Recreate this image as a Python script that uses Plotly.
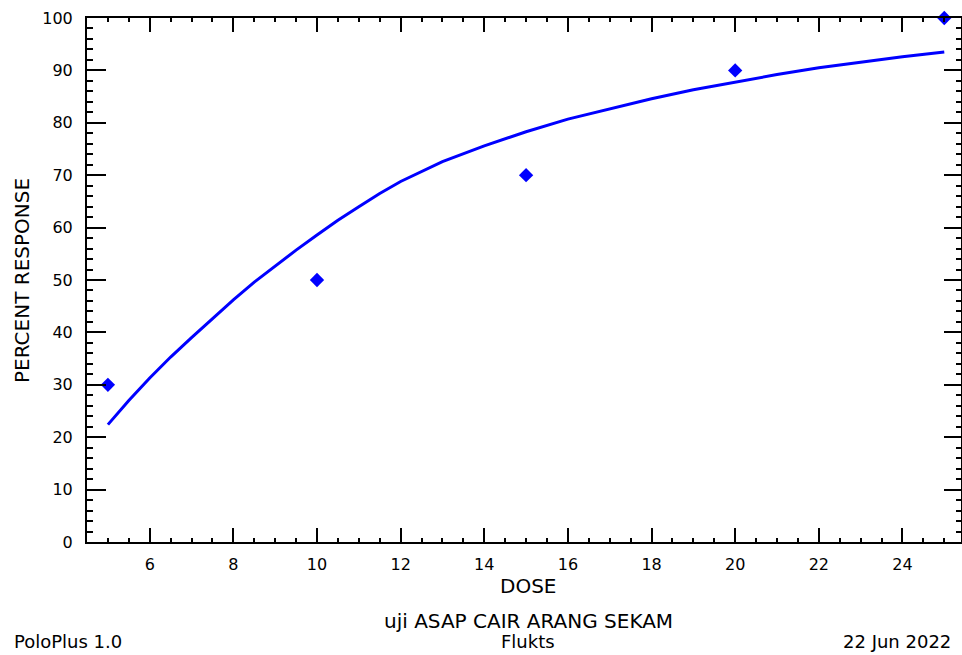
import plotly.graph_objects as go

# Observed data points
dose_obs = [5, 10, 15, 20, 25]
response_obs = [30, 50, 70, 90, 100]

# Fitted curve values
dose_curve = [5.0, 5.5, 6.0, 6.5, 7.0, 7.5, 8.0, 8.5, 9.0, 9.5, 10.0, 10.5, 11.0, 11.5,
              12.0, 13.0, 14.0, 15.0, 16.0, 17.0, 18.0, 19.0, 20.0, 21.0, 22.0, 23.0,
              24.0, 25.0]
response_curve = [22.4, 27.0, 31.3, 35.3, 39.0, 42.6, 46.2, 49.6, 52.7, 55.7, 58.6, 61.4,
                  64.0, 66.5, 68.8, 72.6, 75.6, 78.3, 80.7, 82.7, 84.6, 86.3, 87.8, 89.2,
                  90.5, 91.6, 92.6, 93.5]

x_ticks = [6, 8, 10, 12, 14, 16, 18, 20, 22, 24]
y_ticks = [0, 10, 20, 30, 40, 50, 60, 70, 80, 90, 100]
x_range = [4.5, 25.4]
y_range = [0, 100]

FONT = "DejaVu Sans"
BLUE = "#0000FF"

fig = go.Figure()
fig.add_trace(go.Scatter(
    x=dose_curve, y=response_curve, mode="lines",
    line=dict(color=BLUE, width=3, shape="linear"),
    showlegend=False, hoverinfo="skip",
))
fig.add_trace(go.Scatter(
    x=dose_obs, y=response_obs, mode="markers",
    marker=dict(symbol="diamond", size=11, color=BLUE, line=dict(width=0)),
    cliponaxis=False, showlegend=False,
))
# invisible trace so the mirrored (top/right) tick axes are drawn
fig.add_trace(go.Scatter(
    x=dose_obs, y=response_obs, mode="markers", xaxis="x2", yaxis="y2",
    marker=dict(opacity=0), showlegend=False, hoverinfo="skip",
))

common = dict(showgrid=False, zeroline=False, ticks="inside", tickwidth=2,
              tickcolor="black")
tickfont = dict(family=FONT, size=16, color="black")

fig.update_layout(
    xaxis=dict(
        range=x_range, tickvals=x_ticks, ticklen=14, ticklabelstandoff=7,
        showline=True, linecolor="black", linewidth=2, mirror=True,
        tickfont=tickfont,
        minor=dict(dtick=0.5, tick0=0, ticks="inside", ticklen=4, tickwidth=2,
                   tickcolor="black", showgrid=False),
        **common,
    ),
    yaxis=dict(
        range=y_range, tickvals=y_ticks, ticklen=19, ticklabelstandoff=9,
        showline=True, linecolor="black", linewidth=2, mirror=True,
        tickfont=tickfont,
        minor=dict(dtick=2, tick0=0, ticks="inside", ticklen=6, tickwidth=2,
                   tickcolor="black", showgrid=False),
        **common,
    ),
    xaxis2=dict(
        range=x_range, tickvals=x_ticks, ticklen=14, overlaying="x", side="top",
        anchor="y", showticklabels=False, showline=False,
        minor=dict(dtick=0.5, tick0=0, ticks="inside", ticklen=4, tickwidth=2,
                   tickcolor="black", showgrid=False),
        **common,
    ),
    yaxis2=dict(
        range=y_range, tickvals=y_ticks, ticklen=17, overlaying="y", side="right",
        anchor="x", showticklabels=False, showline=False,
        minor=dict(dtick=2, tick0=0, ticks="inside", ticklen=5, tickwidth=2,
                   tickcolor="black", showgrid=False),
        **common,
    ),
)

big = dict(family=FONT, size=20, color="black")
small = dict(family=FONT, size=18, color="black")
annotations = [
    dict(text="PERCENT RESPONSE", x=-0.0744, y=0.5, textangle=-90,
         xanchor="center", yanchor="middle", font=big),
    dict(text="DOSE", x=0.5046, y=-0.084, xanchor="center", yanchor="middle", font=big),
    dict(text="uji ASAP CAIR ARANG SEKAM", x=0.5046, y=-0.1508,
         xanchor="center", yanchor="middle", font=big),
    dict(text="PoloPlus 1.0", x=-0.0858, y=-0.2137, xanchor="left", yanchor="bottom",
         font=small),
    dict(text="Flukts", x=0.5046, y=-0.2137, xanchor="center", yanchor="bottom",
         font=small),
    dict(text="22 Jun 2022", x=0.9908, y=-0.2137, xanchor="right", yanchor="bottom",
         font=small),
]
for a in annotations:
    a.update(xref="paper", yref="paper", showarrow=False)

fig.update_layout(
    width=962, height=655,
    margin=dict(l=87, r=1, t=18, b=113, autoexpand=False),
    plot_bgcolor="white", paper_bgcolor="white",
    annotations=annotations,
)

fig.write_html(
    "out.html",
    config={"displayModeBar": False},
    post_script="document.body.style.margin='0';document.body.style.overflow='hidden';",
)
